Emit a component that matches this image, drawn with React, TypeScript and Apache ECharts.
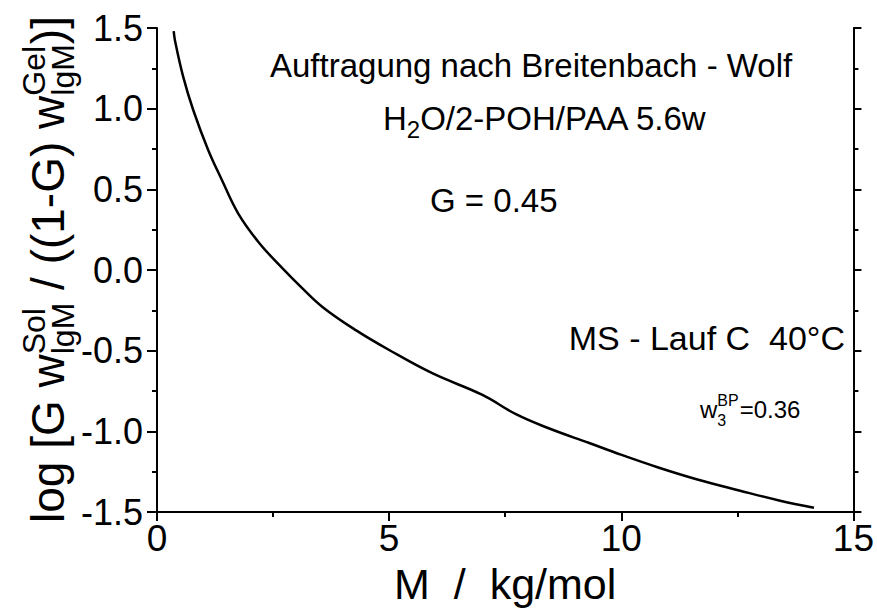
import React, { useEffect, useRef } from "react";
import * as echarts from "echarts";

// Data
const M_VALUES = [0.36, 0.387, 0.565, 0.78, 1.10, 1.39, 1.75, 2.21, 2.72, 3.11, 3.57, 4.29, 5.01, 5.94, 7.01, 7.73, 8.45, 9.31, 9.99, 10.78, 11.64, 12.54, 13.40, 14.15];
const LOG_RATIO = [1.48, 1.423, 1.197, 0.992, 0.746, 0.563, 0.35, 0.165, 0.006, -0.107, -0.23, -0.374, -0.497, -0.641, -0.774, -0.893, -0.982, -1.072, -1.144, -1.222, -1.298, -1.366, -1.428, -1.473];
const X_TICKS = [0, 5, 10, 15];
const Y_TICKS = [-1.5, -1.0, -0.5, 0.0, 0.5, 1.0, 1.5];

const FONT = '"Liberation Sans", Arial, sans-serif';

let ctx: CanvasRenderingContext2D | null = null;
function tw(t: string, size: number): number {
  if (!ctx) ctx = document.createElement("canvas").getContext("2d");
  ctx!.font = `${size}px ${FONT}`;
  return ctx!.measureText(t).width;
}

function txt(t: string, x: number, base: number, size: number) {
  return {
    type: "text",
    x,
    y: base - 0.35 * size,
    style: { text: t, fontSize: size, fontFamily: FONT, fill: "#000", align: "left", verticalAlign: "middle" },
  };
}

type Piece = { t?: string; size?: number; dy?: number; sup?: string; sub?: string; ss?: number; supDy?: number; subDy?: number; gap?: number };

function layout(pieces: Piece[], x0: number, base: number) {
  const els: any[] = [];
  let x = x0;
  for (const p of pieces) {
    if (p.sup !== undefined || p.sub !== undefined) {
      const ss = p.ss as number;
      let w = 0;
      if (p.sup) { els.push(txt(p.sup, x, base + (p.supDy || 0), ss)); w = Math.max(w, tw(p.sup, ss)); }
      if (p.sub) { els.push(txt(p.sub, x, base + (p.subDy || 0), ss)); w = Math.max(w, tw(p.sub, ss)); }
      x += w + (p.gap || 0);
    } else {
      const s = p.size as number;
      els.push(txt(p.t as string, x, base + (p.dy || 0), s));
      x += tw(p.t as string, s) + (p.gap || 0);
    }
  }
  return els;
}

export default function App() {
  const ref = useRef<HTMLDivElement>(null);
  useEffect(() => {
    if (!ref.current) return;
    const chart = echarts.init(ref.current, null, { renderer: "svg" });
    const data = M_VALUES.map((m, i) => [m, LOG_RATIO[i]]);

    const yTitle = layout(
      [
        { t: "log [G w", size: 46 },
        { sup: "Sol", sub: "lgM", ss: 32, supDy: -19, subDy: 10 },
        { t: " / ((1-G) w", size: 46 },
        { sup: "Gel", sub: "lgM", ss: 32, supDy: -19, subDy: 10 },
        { t: ")]", size: 46 },
      ],
      0,
      0
    );

    const graphics: any[] = [
      { type: "group", x: 64, y: 523, rotation: Math.PI / 2, children: yTitle },
      ...layout([{ t: "Auftragung nach Breitenbach - Wolf", size: 33 }], 270, 77),
      ...layout(
        [
          { t: "H", size: 33 },
          { t: "2", size: 24, dy: 8 },
          { t: "O/2-POH/PAA 5.6w", size: 33 },
        ],
        383,
        130
      ),
      ...layout([{ t: "G = 0.45", size: 33 }], 430, 212),
      {
        type: "text",
        x: 845,
        y: 350 - 0.35 * 34,
        style: { text: "MS - Lauf C  40°C", fontSize: 34, fontFamily: FONT, fill: "#000", align: "right", verticalAlign: "middle" },
      },
      ...layout(
        [
          { t: "w", size: 24 },
          { sup: "BP", sub: "3", ss: 16, supDy: -12, subDy: 8, gap: 1 },
          { t: "=0.36", size: 24 },
        ],
        700,
        418
      ),
    ];

    chart.setOption({
      animation: false,
      backgroundColor: "#fff",
      grid: { left: 157, right: 21, top: 28, bottom: 95 },
      xAxis: {
        type: "value",
        min: X_TICKS[0],
        max: X_TICKS[X_TICKS.length - 1],
        interval: 5,
        name: "M  /  kg/mol",
        nameLocation: "middle",
        nameGap: 48,
        nameTextStyle: { fontSize: 43, fontFamily: FONT, color: "#000" },
        axisLine: { show: true, onZero: false, lineStyle: { color: "#000", width: 2 } },
        axisTick: { show: true, inside: false, length: 9, lineStyle: { color: "#000", width: 2 } },
        minorTick: { show: true, splitNumber: 2, length: 5, lineStyle: { color: "#000", width: 2 } },
        axisLabel: { fontSize: 37, fontFamily: FONT, color: "#000", margin: 8 },
        splitLine: { show: false },
      },
      yAxis: [
        {
          type: "value",
          min: Y_TICKS[0],
          max: Y_TICKS[Y_TICKS.length - 1],
          interval: 0.5,
          position: "left",
          axisLine: { show: true, onZero: false, lineStyle: { color: "#000", width: 2 } },
          axisTick: { show: true, inside: false, length: 10, lineStyle: { color: "#000", width: 2 } },
          minorTick: { show: true, splitNumber: 2, length: 5, lineStyle: { color: "#000", width: 2 } },
          axisLabel: { fontSize: 36, fontFamily: FONT, color: "#000", margin: 14, formatter: (v: number) => v.toFixed(1) },
          splitLine: { show: false },
        },
        {
          type: "value",
          min: Y_TICKS[0],
          max: Y_TICKS[Y_TICKS.length - 1],
          interval: 0.5,
          position: "right",
          axisLine: { show: true, onZero: false, lineStyle: { color: "#000", width: 2 } },
          axisTick: { show: true, inside: false, length: 8, lineStyle: { color: "#000", width: 2 } },
          minorTick: { show: true, splitNumber: 2, length: 5, lineStyle: { color: "#000", width: 2 } },
          axisLabel: { show: false },
          splitLine: { show: false },
        },
      ],
      series: [
        {
          type: "line",
          data,
          yAxisIndex: 0,
          showSymbol: false,
          smooth: 0.4,
          lineStyle: { color: "#000", width: 2.5 },
        },
      ],
      graphic: graphics,
    });
    return () => chart.dispose();
  }, []);
  return <div ref={ref} style={{ position: "absolute", left: 0, top: 0, width: 877, height: 610 }} />;
}
